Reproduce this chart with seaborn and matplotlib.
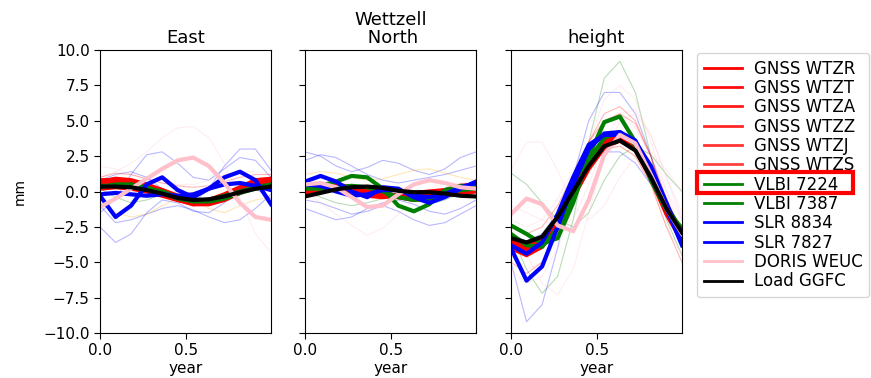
import matplotlib
matplotlib.use("Agg")
import matplotlib.pyplot as plt
from matplotlib.lines import Line2D
from matplotlib.patches import Rectangle
import seaborn as sns
import pandas as pd

# ---------------- data ----------------
year = [0.0, 0.09, 0.18, 0.27, 0.36, 0.45, 0.54, 0.63, 0.72, 0.81, 0.90, 0.99]

labels = ["GNSS WTZR", "GNSS WTZT", "GNSS WTZA", "GNSS WTZZ", "GNSS WTZJ", "GNSS WTZS",
          "VLBI 7224", "VLBI 7387", "SLR 8834", "SLR 7827", "DORIS WEUC", "Load GGFC"]
colors = ["red", "red", "red", "red", "red", "red",
          "green", "green", "blue", "blue", "pink", "black"]
legend_alpha = [1.0, 0.95, 0.9, 0.85, 0.8, 0.75, 1.0, 1.0, 1.0, 1.0, 1.0, 1.0]

east = {
    "GNSS WTZR": [0.6, 0.7, 0.6, 0.3, 0.0, -0.4, -0.8, -0.8, -0.5, 0.0, 0.5, 0.7],
    "GNSS WTZT": [0.4, 0.5, 0.4, 0.2, -0.1, -0.5, -0.9, -0.9, -0.6, -0.1, 0.4, 0.6],
    "GNSS WTZA": [0.8, 0.8, 0.6, 0.2, -0.2, -0.6, -0.9, -0.8, -0.4, 0.2, 0.6, 0.8],
    "GNSS WTZZ": [0.2, 0.3, 0.2, 0.0, -0.3, -0.6, -0.8, -0.7, -0.4, 0.0, 0.3, 0.5],
    "GNSS WTZJ": [0.5, 0.6, 0.5, 0.4, 0.1, -0.3, -0.6, -0.7, -0.5, -0.1, 0.3, 0.6],
    "GNSS WTZS": [0.7, 0.9, 0.8, 0.5, 0.1, -0.4, -0.7, -0.6, -0.2, 0.3, 0.8, 0.9],
    "VLBI 7224": [0.4, 0.4, 0.3, 0.2, 0.0, -0.4, -0.7, -0.7, -0.5, -0.1, 0.2, 0.4],
    "VLBI 7387": [0.3, 0.5, 0.5, 0.3, -0.1, -0.5, -0.7, -0.6, -0.3, 0.0, 0.3, 0.5],
    "SLR 8834": [-0.3, -1.8, -1.0, 0.5, 1.0, 0.1, -0.4, 0.2, 1.0, 1.4, 0.8, -0.9],
    "SLR 7827": [-0.2, -0.1, -0.2, -0.3, -0.2, -0.3, -0.2, 0.2, 0.5, 0.6, 0.4, 0.1],
    "DORIS WEUC": [-1.1, -0.5, 0.2, 0.9, 1.6, 2.2, 2.4, 1.8, 0.6, -0.8, -1.8, -2.0],
    "Load GGFC": [0.35, 0.35, 0.3, 0.1, -0.15, -0.45, -0.6, -0.55, -0.35, -0.05, 0.2, 0.35],
}
north = {
    "GNSS WTZR": [0.3, 0.4, 0.3, 0.1, -0.1, -0.2, -0.3, -0.4, -0.4, -0.2, 0.0, 0.2],
    "GNSS WTZT": [0.0, 0.2, 0.3, 0.2, 0.0, -0.2, -0.4, -0.5, -0.4, -0.1, 0.2, 0.3],
    "GNSS WTZA": [0.5, 0.4, 0.2, 0.0, -0.2, -0.3, -0.3, -0.2, -0.1, 0.0, 0.1, 0.3],
    "GNSS WTZZ": [-0.2, 0.0, 0.2, 0.2, 0.1, -0.1, -0.4, -0.6, -0.5, -0.3, -0.1, 0.0],
    "GNSS WTZJ": [0.2, 0.3, 0.1, -0.1, -0.3, -0.4, -0.3, -0.1, 0.0, 0.1, 0.2, 0.3],
    "GNSS WTZS": [0.4, 0.5, 0.5, 0.3, 0.1, -0.1, -0.3, -0.3, -0.2, 0.1, 0.4, 0.5],
    "VLBI 7224": [0.3, 0.4, 0.7, 1.1, 1.0, 0.2, -1.0, -1.4, -0.9, 0.1, 0.4, 0.3],
    "VLBI 7387": [0.2, 0.2, 0.3, 0.4, 0.3, 0.0, -0.4, -0.6, -0.5, -0.2, 0.1, 0.2],
    "SLR 8834": [0.7, 1.1, 0.7, 0.0, -0.4, 0.3, 0.2, -0.4, -0.8, -0.4, 0.2, 0.7],
    "SLR 7827": [0.5, 0.4, 0.0, -0.3, -0.2, 0.1, 0.1, -0.3, -0.4, -0.2, 0.3, 0.6],
    "DORIS WEUC": [0.5, 0.6, 0.3, -0.4, -1.1, -1.0, -0.2, 0.5, 0.8, 0.6, 0.3, 0.2],
    "Load GGFC": [-0.35, -0.1, 0.15, 0.3, 0.35, 0.25, 0.05, -0.05, -0.05, -0.15, -0.3, -0.35],
}
height = {
    "GNSS WTZR": [-3.8, -4.3, -3.8, -2.3, -0.3, 1.8, 3.3, 3.8, 3.2, 1.2, -1.3, -3.2],
    "GNSS WTZT": [-3.5, -4.0, -3.6, -2.0, 0.0, 2.0, 3.5, 3.9, 3.1, 1.0, -1.5, -3.4],
    "GNSS WTZA": [-4.0, -4.5, -3.9, -2.2, -0.1, 2.0, 3.5, 3.9, 3.3, 1.3, -1.2, -3.0],
    "GNSS WTZZ": [-3.6, -4.2, -3.5, -1.8, 0.3, 2.3, 3.6, 3.8, 3.0, 0.9, -1.6, -3.5],
    "GNSS WTZJ": [-3.9, -4.4, -3.9, -2.4, -0.4, 1.6, 3.1, 3.6, 3.0, 1.0, -1.4, -3.3],
    "GNSS WTZS": [-3.3, -3.9, -3.4, -1.9, 0.1, 2.1, 3.4, 3.7, 3.1, 1.1, -1.3, -3.1],
    "VLBI 7224": [-2.4, -3.0, -3.7, -3.3, -0.8, 2.5, 4.9, 5.3, 3.5, 0.8, -1.3, -2.6],
    "VLBI 7387": [-3.0, -3.8, -3.9, -2.6, -0.2, 2.2, 3.8, 4.2, 3.3, 1.2, -1.0, -2.8],
    "SLR 8834": [-4.0, -6.3, -5.3, -2.5, 0.5, 3.0, 4.1, 4.2, 3.6, 1.5, -1.2, -3.8],
    "SLR 7827": [-3.8, -4.4, -3.6, -1.6, 1.0, 3.3, 4.0, 4.0, 3.5, 1.8, -0.8, -3.4],
    "DORIS WEUC": [-1.6, -0.5, -0.9, -2.4, -2.8, -0.6, 2.6, 4.0, 3.4, 1.2, -1.2, -3.0],
    "Load GGFC": [-3.3, -3.6, -3.2, -1.8, 0.0, 1.8, 3.2, 3.6, 2.9, 1.0, -1.2, -2.9],
}

# faint single-solution curves: (colour, values)
east_faint_colors = ["blue", "blue", "blue", "blue", "pink", "pink", "red", "orange", "green"]
east_faint = [
    [-1.5, -0.5, 1.2, 2.6, 2.8, 2.0, 1.0, 0.8, 1.6, 2.4, 2.2, 1.0],
    [0.8, 1.2, 1.4, 1.0, 0.2, -0.6, -0.8, 0.2, 1.8, 3.0, 3.0, 1.5],
    [-2.5, -3.6, -3.0, -1.5, -0.6, -0.8, -1.4, -1.5, -0.8, 0.0, 0.2, -0.5],
    [-1.0, -2.2, -2.0, -1.6, -1.2, -1.0, -1.3, -1.8, -2.2, -2.0, -1.2, -0.2],
    [1.0, 1.4, 2.0, 2.8, 3.8, 4.5, 4.6, 3.8, 2.0, -0.5, -3.0, -4.3],
    [1.8, 1.6, 1.2, 0.8, 0.6, 0.5, 0.5, 0.8, 1.2, 1.4, 1.4, 1.2],
    [1.0, 1.3, 1.2, 0.9, 0.6, 0.4, 0.3, 0.4, 0.7, 1.0, 1.2, 1.2],
    [-0.8, -1.5, -1.8, -1.6, -1.0, -0.5, -0.6, -1.2, -1.5, -1.0, -0.6, -0.4],
    [0.2, -0.4, -0.8, -0.6, -0.2, 0.0, -0.3, -0.8, -0.7, -0.2, 0.3, 0.5],
]
north_faint_colors = ["blue", "blue", "blue", "blue", "pink", "orange", "green"]
north_faint = [
    [2.8, 2.5, 1.8, 1.4, 1.7, 2.2, 2.0, 1.5, 1.2, 1.6, 2.4, 2.8],
    [2.2, 2.6, 2.4, 1.8, 1.2, 0.8, 0.6, 0.8, 1.0, 1.2, 1.5, 1.8],
    [-1.2, -1.6, -2.0, -1.8, -1.2, -0.8, -0.6, -0.9, -1.4, -1.6, -1.2, -0.6],
    [-0.6, -0.8, -1.2, -1.6, -1.4, -1.0, -1.4, -2.0, -2.4, -2.2, -1.6, -1.0],
    [0.0, -0.8, -1.6, -2.4, -3.1, -2.6, -1.6, -0.6, 0.2, 0.6, 0.6, 0.4],
    [1.2, 1.4, 1.3, 1.0, 0.8, 0.9, 1.2, 1.5, 1.6, 1.3, 1.0, 0.8],
    [0.0, -0.4, -0.8, -1.0, -0.8, -0.5, -0.3, -0.6, -0.9, -0.6, -0.1, 0.3],
]
height_faint_colors = ["green", "green", "blue", "blue", "pink", "pink", "pink",
                       "pink", "pink", "pink", "red", "red", "red"]
height_faint = [
    [-3.0, -5.5, -7.2, -6.0, -2.0, 3.5, 8.0, 9.2, 7.0, 2.5, -2.0, -4.5],
    [1.3, 0.5, -0.8, -2.0, -2.5, -1.5, 0.8, 2.5, 3.2, 2.6, 1.2, 0.0],
    [-5.0, -9.2, -8.0, -4.0, 1.0, 5.0, 7.0, 7.0, 5.5, 2.5, -1.0, -3.5],
    [-3.0, -3.5, -3.0, -1.5, 0.5, 2.0, 2.8, 2.8, 2.0, 0.5, -1.2, -2.5],
    [1.5, 3.5, 3.5, 1.5, -1.0, -2.0, -1.0, 1.0, 2.5, 2.8, 1.5, 0.0],
    [-4.5, -5.5, -5.0, -3.0, 0.0, 3.5, 6.5, 7.5, 6.5, 3.5, 0.0, -3.0],
    [-2.0, -2.5, -2.0, -0.5, 1.5, 3.5, 5.0, 5.5, 4.5, 2.5, 0.0, -2.0],
    [-5.5, -6.5, -6.0, -4.0, -1.0, 1.5, 3.0, 3.2, 2.5, 0.5, -2.5, -4.5],
    [-1.0, -1.5, -2.0, -2.5, -2.0, 0.5, 3.5, 5.5, 5.8, 4.0, 1.0, -1.5],
    [-2.5, -4.5, -6.5, -7.3, -5.5, -1.5, 2.5, 5.0, 5.5, 4.0, 1.0, -2.0],
    [-2.5, -3.0, -2.5, -1.0, 1.2, 3.5, 5.0, 5.5, 4.8, 2.5, -0.5, -3.0],
    [-5.0, -5.8, -5.0, -3.0, -0.5, 1.8, 3.0, 3.2, 2.5, 0.5, -2.5, -5.0],
    [-4.0, -4.5, -4.0, -2.0, 0.8, 3.5, 5.5, 6.0, 5.0, 2.5, -1.0, -4.0],
]

titles = ["East", "Wettzell\n North", "height"]
yticks = [-10.0, -7.5, -5.0, -2.5, 0.0, 2.5, 5.0, 7.5, 10.0]

# ---------------- figure ----------------
fig = plt.figure(figsize=(8.71, 3.78), dpi=100)
W, H = 871, 378
lefts = [100, 305, 511]
axes = []
for i, l in enumerate(lefts):
    ax = fig.add_axes([l / W, (H - 333) / H, 171 / W, 283 / H],
                      sharey=axes[0] if axes else None)
    axes.append(ax)

panels = [(east, east_faint, east_faint_colors),
          (north, north_faint, north_faint_colors),
          (height, height_faint, height_faint_colors)]

for ax, (main, faint, fcols), title in zip(axes, panels, titles):
    for vals, c in zip(faint, fcols):
        df = pd.DataFrame({"year": year, "mm": vals})
        sns.lineplot(data=df, x="year", y="mm", ax=ax, color=c,
                     linewidth=0.8, alpha=0.28, legend=False)
    for lab, c in zip(labels, colors):
        df = pd.DataFrame({"year": year, "mm": main[lab]})
        sns.lineplot(data=df, x="year", y="mm", ax=ax, color=c,
                     linewidth=3, legend=False)
    ax.set_title(title, fontsize=13, linespacing=1.0, pad=5)
    ax.set_xlim(0, 0.99)
    ax.set_xticks([0.0, 0.5])
    ax.set_xlabel("year", fontsize=11, labelpad=2)
    ax.set_ylabel("")
    ax.tick_params(labelsize=11, length=4.5, pad=3)

axes[0].set_ylim(-10, 10)
axes[0].set_yticks(yticks)
axes[0].set_ylabel("mm", fontsize=10, labelpad=12)
for ax in axes[1:]:
    ax.tick_params(labelleft=False)

handles = [Line2D([], [], color=c, lw=2, alpha=a)
           for c, a in zip(colors, legend_alpha)]
fig.legend(handles, labels, loc="upper left",
           bbox_to_anchor=(697 / W, 1 - 53 / H), fontsize=12,
           handlelength=2.3, handletextpad=0.72, labelspacing=0.08,
           borderpad=0.4, borderaxespad=0.0)

# red highlight box around "VLBI 7224"
fig.add_artist(Rectangle((697 / W, 1 - 193 / H), 156 / W, 21 / H,
                         transform=fig.transFigure, fill=False,
                         edgecolor="red", linewidth=3, zorder=10))

fig.savefig("out.png", dpi=100)
